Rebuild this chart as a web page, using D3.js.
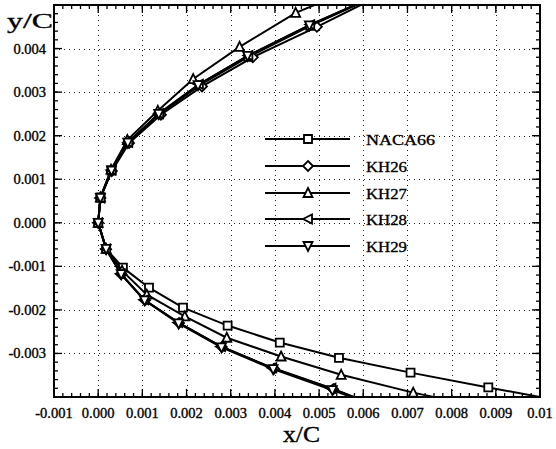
<!DOCTYPE html>
<html>
<head>
<meta charset="utf-8">
<script src="https://cdn.jsdelivr.net/npm/d3@7"></script>
<style>
  body { margin: 0; background: #fff; }
  svg { display: block; }
</style>
</head>
<body>
<div id="chart"></div>
<script>
/* ── data ────────────────────────────────────────────── */

const seriesNames  = ['NACA66', 'KH26', 'KH27', 'KH28', 'KH29'];
const seriesShapes = ['square', 'diamond', 'triUp', 'triLeft', 'triDown'];

// ordered from upper surface, through the leading edge, to the lower surface
const naca66X = [0.0066, 0.0048, 0.0034, 0.0023, 0.00138, 0.00068, 0.00030, 0.00005, 0, 0.00018, 0.00056, 0.00115, 0.00192, 0.00293, 0.00411, 0.00545, 0.00707, 0.00883, 0.0107];
const naca66Y = [0.00535, 0.00452, 0.00381, 0.00316, 0.00249, 0.00184, 0.00120, 0.00058, 0, -0.00060, -0.00103, -0.00149, -0.00195, -0.00236, -0.00275, -0.00310, -0.00344, -0.00378, -0.00413];

const kh26X = [0.0067, 0.00495, 0.00350, 0.00235, 0.00142, 0.00070, 0.00031, 0.00005, 0, 0.00018, 0.00052, 0.00106, 0.00183, 0.00280, 0.00398, 0.00532, 0.0068];
const kh26Y = [0.00538, 0.00450, 0.00380, 0.00313, 0.00248, 0.00183, 0.00119, 0.00057, 0, -0.00061, -0.00118, -0.00178, -0.00230, -0.00285, -0.00335, -0.00382, -0.0044];

const kh27X = [0.0062, 0.00447, 0.00320, 0.00215, 0.00135, 0.00066, 0.00029, 0.00005, 0, 0.00018, 0.00054, 0.00110, 0.00196, 0.00291, 0.00414, 0.00550, 0.00713, 0.0090];
const kh27Y = [0.00555, 0.00482, 0.00404, 0.00330, 0.00257, 0.00190, 0.00122, 0.00058, 0, -0.00060, -0.00110, -0.00165, -0.00215, -0.00264, -0.00307, -0.00349, -0.00390, -0.0043];

const kh28X = [0.0066, 0.00480, 0.00340, 0.00228, 0.00138, 0.00068, 0.00030, 0.00005, 0, 0.00018, 0.00051, 0.00104, 0.00181, 0.00278, 0.00394, 0.00528, 0.0068];
const kh28Y = [0.00535, 0.00455, 0.00384, 0.00318, 0.00251, 0.00185, 0.00121, 0.00057, 0, -0.00060, -0.00117, -0.00177, -0.00229, -0.00284, -0.00333, -0.00380, -0.0044];

const kh29X = [0.0066, 0.00478, 0.00338, 0.00226, 0.00137, 0.00067, 0.00030, 0.00005, 0, 0.00018, 0.00052, 0.00105, 0.00182, 0.00279, 0.00396, 0.00530, 0.0068];
const kh29Y = [0.00536, 0.00453, 0.00383, 0.00316, 0.00250, 0.00184, 0.00120, 0.00057, 0, -0.00060, -0.00118, -0.00178, -0.00231, -0.00286, -0.00336, -0.00384, -0.0044];

const seriesX = [naca66X, kh26X, kh27X, kh28X, kh29X];
const seriesY = [naca66Y, kh26Y, kh27Y, kh28Y, kh29Y];

const xDomain = [-0.001, 0.01];
const yDomain = [-0.004, 0.005];
const xTickValues = [-0.001, 0, 0.001, 0.002, 0.003, 0.004, 0.005, 0.006, 0.007, 0.008, 0.009, 0.01];
const xTickLabels = ['-0.001', '0.000', '0.001', '0.002', '0.003', '0.004', '0.005', '0.006', '0.007', '0.008', '0.009', '0.01'];
const yTickValues = [-0.003, -0.002, -0.001, 0, 0.001, 0.002, 0.003, 0.004];
const yTickLabels = ['-0.003', '-0.002', '-0.001', '0.000', '0.001', '0.002', '0.003', '0.004'];

/* ── layout ──────────────────────────────────────────── */

const W = 556, H = 449;
const m = { left: 54, right: 16, top: 5, bottom: 52 };
const FONT = '"Liberation Serif", "Times New Roman", serif';

const x = d3.scaleLinear().domain(xDomain).range([m.left, W - m.right]);
const y = d3.scaleLinear().domain(yDomain).range([H - m.bottom, m.top]);

const svg = d3.select('#chart').append('svg')
  .attr('width', W).attr('height', H)
  .style('font-family', FONT);

svg.append('rect').attr('width', W).attr('height', H).attr('fill', '#fff');

svg.append('defs').append('clipPath').attr('id', 'plot-clip')
  .append('rect')
  .attr('x', m.left).attr('y', m.top)
  .attr('width', W - m.left - m.right).attr('height', H - m.top - m.bottom);

/* ── grid ───────────────────────────────────────────── */

const grid = svg.append('g')
  .attr('stroke', '#222').attr('stroke-width', 1).attr('stroke-dasharray', '1,4');

grid.selectAll('line.gx')
  .data(xTickValues.filter(v => v > xDomain[0] && v < xDomain[1]))
  .join('line').attr('class', 'gx')
  .attr('x1', d => Math.round(x(d)) + 0.5).attr('x2', d => Math.round(x(d)) + 0.5)
  .attr('y1', m.top).attr('y2', H - m.bottom);

grid.selectAll('line.gy')
  .data(yTickValues)
  .join('line').attr('class', 'gy')
  .attr('y1', d => Math.round(y(d)) + 0.5).attr('y2', d => Math.round(y(d)) + 0.5)
  .attr('x1', m.left).attr('x2', W - m.right);

/* ── axes: inward ticks on all four sides ───────────── */

const xMinor = d3.range(-0.001, 0.01 + 1e-9, 0.0002);
const yMinor = d3.range(-0.004, 0.005 + 1e-9, 0.0002);
const yMajor = d3.range(-0.004, 0.005 + 1e-9, 0.001);

const ticks = svg.append('g').attr('stroke', '#000').attr('stroke-width', 1.3);

function tickSet(vals, len, cls) {
  ticks.selectAll('line.b' + cls).data(vals).join('line').attr('class', 'b' + cls)
    .attr('x1', d => x(d)).attr('x2', d => x(d))
    .attr('y1', H - m.bottom).attr('y2', H - m.bottom - len);
  ticks.selectAll('line.t' + cls).data(vals).join('line').attr('class', 't' + cls)
    .attr('x1', d => x(d)).attr('x2', d => x(d))
    .attr('y1', m.top).attr('y2', m.top + len);
}
function tickSetY(vals, len, cls) {
  ticks.selectAll('line.l' + cls).data(vals).join('line').attr('class', 'l' + cls)
    .attr('y1', d => y(d)).attr('y2', d => y(d))
    .attr('x1', m.left).attr('x2', m.left + len);
  ticks.selectAll('line.r' + cls).data(vals).join('line').attr('class', 'r' + cls)
    .attr('y1', d => y(d)).attr('y2', d => y(d))
    .attr('x1', W - m.right).attr('x2', W - m.right - len);
}
tickSet(xMinor, 4, 'mn');
tickSet(xTickValues, 8, 'mj');
tickSetY(yMinor, 4, 'mn');
tickSetY(yMajor, 8, 'mj');

const textInk = sel => sel.attr('stroke', '#000').attr('stroke-width', 0.35);

svg.append('g').call(textInk).selectAll('text').data(xTickValues).join('text')
  .attr('x', d => x(d)).attr('y', H - m.bottom + 21)
  .attr('text-anchor', 'middle').attr('font-size', 14.5)
  .text((d, i) => xTickLabels[i]);

svg.append('g').call(textInk).selectAll('text').data(yTickValues).join('text')
  .attr('x', m.left - 8).attr('y', d => y(d) + 5)
  .attr('text-anchor', 'end').attr('font-size', 14.5)
  .text((d, i) => yTickLabels[i]);

svg.append('text').call(textInk).attr('x', 7).attr('y', 28)
  .attr('font-size', 22).attr('textLength', 46).attr('lengthAdjust', 'spacingAndGlyphs')
  .text('y/C');
svg.append('text').call(textInk).attr('x', 283).attr('y', 442)
  .attr('font-size', 23).attr('textLength', 37).attr('lengthAdjust', 'spacingAndGlyphs')
  .text('x/C');

/* ── markers ─────────────────────────────────────────── */

function markerPath(shape, s) {
  const h = s / 2;
  switch (shape) {
    case 'square':  return `M${-h},${-h}H${h}V${h}H${-h}Z`;
    case 'diamond': return `M0,${-h - 1}L${h + 1},0L0,${h + 1}L${-h - 1},0Z`;
    case 'triUp':   return `M0,${-h - 1}L${h + 0.5},${h}L${-h - 0.5},${h}Z`;
    case 'triDown': return `M0,${h + 1}L${h + 0.5},${-h}L${-h - 0.5},${-h}Z`;
    case 'triLeft': return `M${-h - 1},0L${h},${-h - 0.5}L${h},${h + 0.5}Z`;
  }
}

/* ── series ─────────────────────────────────────────── */

const plot = svg.append('g').attr('clip-path', 'url(#plot-clip)');
const line = d3.line().x(d => x(d[0])).y(d => y(d[1]));

seriesNames.forEach((name, k) => {
  const pts = seriesX[k].map((v, i) => [v, seriesY[k][i]]);
  const g = plot.append('g');
  g.append('path').datum(pts).attr('d', line)
    .attr('fill', 'none').attr('stroke', '#000').attr('stroke-width', 2);
  g.selectAll('path.mk').data(pts).join('path').attr('class', 'mk')
    .attr('transform', d => `translate(${x(d[0])},${y(d[1])})`)
    .attr('d', markerPath(seriesShapes[k], 8))
    .attr('fill', '#fff').attr('stroke', '#000').attr('stroke-width', 1.8);
});

/* ── legend ─────────────────────────────────────────── */

const legend = svg.append('g');
const legendY = [139, 166, 193, 219, 246];
const legendTextLen = [69, 41, 41, 41, 41];
seriesNames.forEach((name, k) => {
  const row = legend.append('g').attr('transform', `translate(0,${legendY[k]})`);
  row.append('line').attr('x1', 265).attr('x2', 350)
    .attr('stroke', '#000').attr('stroke-width', 2);
  row.append('path').attr('transform', 'translate(308,0)')
    .attr('d', markerPath(seriesShapes[k], 8))
    .attr('fill', '#fff').attr('stroke', '#000').attr('stroke-width', 1.8);
  row.append('text').call(textInk).attr('x', 366).attr('y', 5.5)
    .attr('font-size', 15.5)
    .attr('textLength', legendTextLen[k]).attr('lengthAdjust', 'spacingAndGlyphs')
    .text(name);
});

/* ── frame ──────────────────────────────────────────── */

svg.append('rect')
  .attr('x', m.left).attr('y', m.top)
  .attr('width', W - m.left - m.right).attr('height', H - m.top - m.bottom)
  .attr('fill', 'none').attr('stroke', '#000').attr('stroke-width', 2);
</script>
</body>
</html>
